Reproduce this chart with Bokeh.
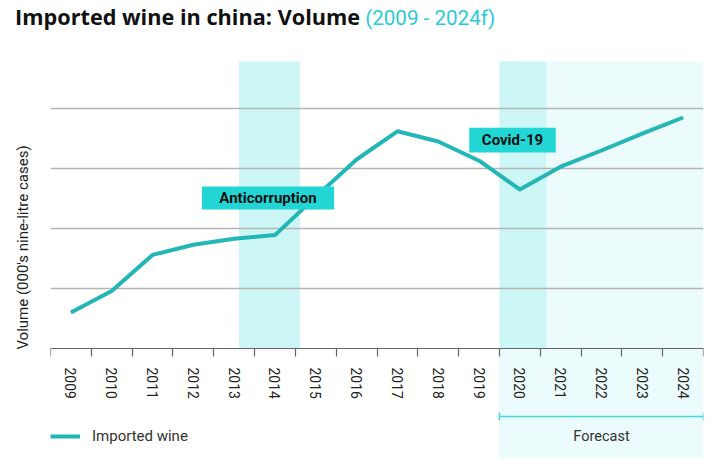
from bokeh.plotting import figure
from bokeh.layouts import column
from bokeh.embed import file_html
from bokeh.resources import INLINE
from bokeh.models import (Range1d, LinearAxis, FixedTicker, Label, Whisker,
                          TeeHead, ColumnDataSource, Div)

# imported wine volume, 000's nine-litre cases
years = [2009, 2010, 2011, 2012, 2013, 2014, 2015, 2016,
         2017, 2018, 2019, 2020, 2021, 2022, 2023, 2024]
volume = [6000, 9600, 15600, 17300, 18300, 18900, 25300, 31500,
          36200, 34500, 31300, 26500, 30300, 33000, 35800, 38500]
grid_values = [10000, 20000, 30000, 40000]

# highlighted periods (in year units) and their labels
event_names = ["Anticorruption", "Covid-19"]
event_start = [2013.12, 2019.5]
event_end = [2014.61, 2020.65]
forecast_start = 2019.5
forecast_end = 2024.5

LINE = "#23b6b6"
BAND = "#cdf6f6"
FORECAST = "#ecfbfb"
TAG = "#22d6d6"
ACCENT = "#2cc9d6"
FONT = "Roboto"

TOP = 52000       # top edge of the plotting area
BOTTOM = -18333   # bottom edge (forecast shading runs under the year labels)

# title as html so the two parts can have their own colours
title = Div(text='<span style="font-family:\'Open Sans\';font-weight:bold;'
                 'font-size:21.7px;color:#111111">Imported wine in china: Volume</span>'
                 '<span style="font-family:Roboto;font-size:20.6px;color:%s;'
                 'margin-left:5px">(2009 - 2024f)</span>' % ACCENT,
            width=712, height=36, margin=0,
            styles={"padding-left": "15px", "padding-top": "4px",
                    "line-height": "26px", "white-space": "nowrap"})

p = figure(width=712, height=424,
           x_range=Range1d(2008.5, 2024.5), y_range=Range1d(BOTTOM, TOP),
           x_axis_type=None, output_backend="svg", toolbar_location=None,
           min_border_left=50, min_border_right=9, min_border_top=0,
           min_border_bottom=2, margin=0)
p.outline_line_color = None
p.background_fill_color = "white"
p.border_fill_color = "white"

# shaded periods
p.quad(left=[forecast_start], right=[forecast_end], bottom=[BOTTOM], top=[47833],
       fill_color=FORECAST, line_color=None, level="image")
p.quad(left=event_start, right=event_end, bottom=[0, 0], top=[47833, 47833],
       fill_color=BAND, line_color=None, level="image")

# y axis: label only, grid at fixed values
p.yaxis.ticker = FixedTicker(ticks=[])
p.yaxis.axis_line_color = None
p.yaxis.major_tick_line_color = None
p.yaxis.minor_tick_line_color = None
p.yaxis.axis_label = "Volume (000's nine-litre cases)"
p.yaxis.axis_label_text_font = FONT
p.yaxis.axis_label_text_font_size = "15px"
p.yaxis.axis_label_text_font_style = "normal"
p.yaxis.axis_label_text_color = "#222222"
p.yaxis.axis_label_standoff = 19
p.ygrid.ticker = FixedTicker(ticks=grid_values)
p.ygrid.grid_line_color = "#b4b4b4"
p.ygrid.grid_line_width = 1.3

# x axis sits at zero, ticks between the years
xaxis = LinearAxis(fixed_location=0,
                   ticker=FixedTicker(ticks=years,
                                      minor_ticks=[y - 0.5 for y in years] + [years[-1] + 0.5]))
xaxis.axis_line_color = "#666666"
xaxis.axis_line_width = 1.2
xaxis.major_tick_out = 0
xaxis.major_tick_in = 0
xaxis.minor_tick_out = 8
xaxis.minor_tick_in = 0
xaxis.minor_tick_line_color = "#666666"
xaxis.minor_tick_line_width = 1.2
xaxis.major_label_orientation = "vertical"
xaxis.major_label_standoff = 11
xaxis.major_label_text_font = FONT
xaxis.major_label_text_font_size = "14px"
xaxis.major_label_text_color = "#222222"
p.add_layout(xaxis, "below")

# the series
p.line(years, volume, line_color=LINE, line_width=4, legend_label="Imported wine")

# event tags
p.quad(left=[2012.21, 2018.76], right=[2015.45, 2020.88],
       bottom=[23170, 32667], top=[27000, 36783],
       fill_color=TAG, line_color=None)
for name, cx, cy in zip(event_names, [2013.83, 2019.82], [25085, 34725]):
    p.add_layout(Label(x=cx, y=cy, text=name, text_align="center",
                       text_baseline="middle", text_font=FONT,
                       text_font_size="15px", text_font_style="bold",
                       text_color="#111111"))

# forecast bracket
bracket = ColumnDataSource(dict(base=[-11333], lower=[forecast_start], upper=[forecast_end]))
head = dict(size=8, line_color="#45dada", line_width=1.5)
p.add_layout(Whisker(source=bracket, base="base", lower="lower", upper="upper",
                     dimension="width", line_color="#45dada", line_width=1.5,
                     lower_head=TeeHead(**head), upper_head=TeeHead(**head)))
p.add_layout(Label(x=(forecast_start + forecast_end) / 2, y=-14667, text="Forecast",
                   text_align="center", text_baseline="middle", text_font=FONT,
                   text_font_size="14.5px", text_color="#333333"))

# legend
p.legend.location = (0, 12)
p.legend.padding = 0
p.legend.margin = 0
p.legend.border_line_color = None
p.legend.background_fill_alpha = 0
p.legend.glyph_width = 30
p.legend.label_standoff = 12
p.legend.label_text_font = FONT
p.legend.label_text_font_size = "15px"
p.legend.label_text_color = "#333333"

layout = column(title, p, spacing=0, margin=0)
open("out.html", "w").write(file_html(layout, INLINE))
